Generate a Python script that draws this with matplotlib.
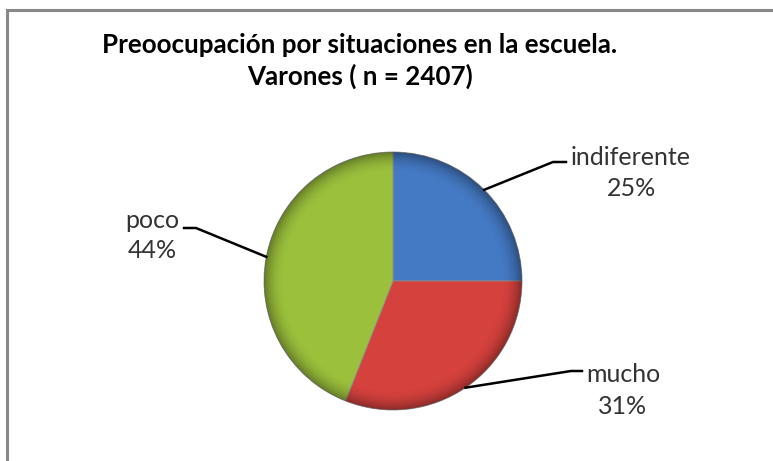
import numpy as np
import matplotlib
matplotlib.use("Agg")
import matplotlib.pyplot as plt
from matplotlib.patches import Circle
from matplotlib.lines import Line2D

categories = ["indiferente", "mucho", "poco"]
values = [25, 31, 44]
colors = ["#4479C3", "#D5413D", "#9BC03C"]
title_lines = ["Preoocupación por situaciones en la escuela.", "Varones ( n = 2407)"]

W, H = 773, 461
fig = plt.figure(figsize=(W / 100, H / 100), dpi=100)
ax = fig.add_axes([0, 0, 1, 1])

cx, cy, r = 393, H - 281, 129
font = ["Lato", "DejaVu Sans"]

wedges, _ = ax.pie(values, colors=colors, startangle=90, counterclock=False,
                   center=(cx, cy), radius=r, frame=True,
                   wedgeprops=dict(edgecolor="#8a8a8a", linewidth=0.6))

# bevel shading overlay
yy, xx = np.mgrid[-1:1:400j, -1:1:400j]
rr = np.sqrt(xx ** 2 + yy ** 2)
alpha = np.clip((rr - 0.84) / 0.16, 0, 1) ** 2 * 0.35
shade = np.zeros((400, 400, 4))
shade[..., 3] = alpha
im = ax.imshow(shade, extent=(cx - r, cx + r, cy - r, cy + r), origin="lower", zorder=5,
               interpolation="bilinear")
clip = Circle((cx, cy), r, transform=ax.transData)
im.set_clip_path(clip)

ax.set_xlim(0, W)
ax.set_ylim(0, H)
ax.set_aspect("equal")
ax.axis("off")

# labels with leader lines
label_pos = {"indiferente": (631, 157, 188, (553, 162), (566, 162)),
             "mucho": (623, 375, 407, (571, 371), (582, 371)),
             "poco": (152, 220, 250, (196, 228), (184, 228))}
for w, cat, v in zip(wedges, categories, values):
    ang = np.deg2rad((w.theta1 + w.theta2) / 2)
    sx, sy = cx + r * np.cos(ang), cy + r * np.sin(ang)
    tx, ty1, ty2, elbow, end = label_pos[cat]
    ax.add_line(Line2D([sx, elbow[0], end[0]], [sy, H - elbow[1], H - end[1]],
                       color="black", linewidth=1.8, zorder=6))
    ax.text(tx, H - ty1, cat, ha="center", va="center", fontsize=18,
            color="#333333", family=font)
    ax.text(tx, H - ty2, f"{v}%", ha="center", va="center", fontsize=18,
            color="#333333", family=font)

ax.text(360, H - 53, title_lines[0], ha="center", va="baseline", fontsize=18.7,
        fontweight="bold", color="black", family=font)
ax.text(360, H - 85, title_lines[1], ha="center", va="baseline", fontsize=18.7,
        fontweight="bold", color="black", family=font)

# chart border (left and top visible)
ax.add_line(Line2D([7, 7, W], [0, H - 10, H - 10], color="#888888", linewidth=2.2,
                   zorder=10, solid_joinstyle="miter"))

fig.savefig("out.png", dpi=100)
